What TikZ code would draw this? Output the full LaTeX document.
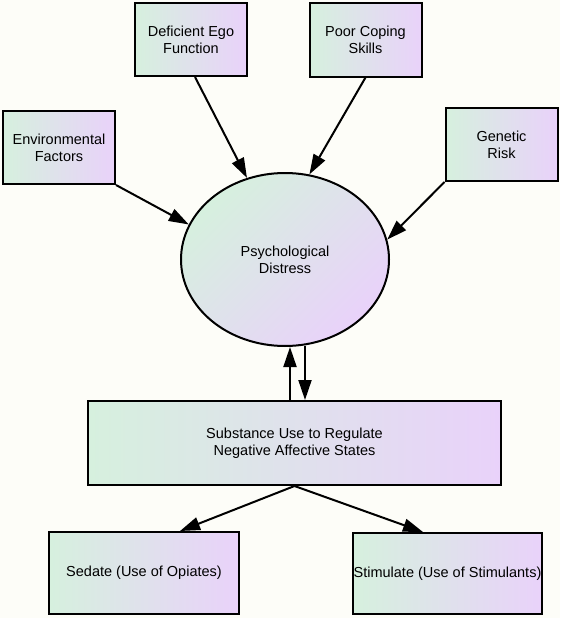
\documentclass[tikz,border=0pt]{standalone}
\usepackage{fontspec}
\setmainfont{Liberation Sans}
\usetikzlibrary{arrows.meta, positioning, shapes.geometric}
\definecolor{mint}{RGB}{214,240,222}
\definecolor{lilac}{RGB}{233,210,250}
\definecolor{paper}{RGB}{253,253,248}

\begin{document}
\begin{tikzpicture}[->,>={Triangle[length=20pt,width=13pt]},line width=2pt,on grid,
  box font/.style={font=\fontsize{14.5}{17}\selectfont},
  factor node/.style={rectangle,draw,left color=mint,right color=lilac,box font,align=center,inner sep=0pt,minimum width=112pt,minimum height=73pt},
  distress node/.style={ellipse,draw,top color=mint,bottom color=lilac,shading angle=45,box font,align=center,inner sep=0pt,minimum width=208pt,minimum height=173pt},
  use node/.style={rectangle,draw,left color=mint,right color=lilac,box font,align=center,inner sep=0pt}]

  \fill[paper,-] (0,0) rectangle (560pt,-618pt);
  \useasboundingbox (0,0) rectangle (560pt,-618pt);

  \node[distress node] (psy) at (285pt,-259.5pt) {Psychological\\Distress};
  \node[factor node] (env) [above left=112pt and 226pt of psy] {Environmental\\Factors};
  \node[factor node] (def) [above left=220pt and 94pt of psy] {Deficient Ego\\Function};
  \node[factor node] (poor) [above right=219.5pt and 80.5pt of psy] {Poor Coping\\Skills};
  \node[factor node] (gen) [above right=115pt and 216.5pt of psy] {Genetic\\Risk};
  \node[use node, minimum width=413pt, minimum height=84pt] (sub) [below right=183.5pt and 9.5pt of psy] {Substance Use to Regulate\\Negative Affective States};
  \node[use node, minimum width=190pt, minimum height=82pt] (sed) [below left=130pt and 150.5pt of sub] {Sedate (Use of Opiates)};
  \node[use node, minimum width=189pt, minimum height=81pt] (stim) [below right=130.5pt and 153pt of sub] {Stimulate (Use of Stimulants)};

  \path[->]
       (env.south east) edge (psy.160)
       ([xshift=4pt]def.south) edge (psy.115)
       (poor.south) edge (psy.74)
       (gen.south west) edge (psy.11)
       (sub.south) edge ([xshift=36pt]sed.north)
       (sub.south) edge ([xshift=-24.5pt]stim.north);

  \draw[->] ([xshift=-4.5pt]sub.north) -- ([xshift=-4.5pt]sub.north |- psy.south);
  \draw[->] ([xshift=10.5pt,yshift=1.5pt]sub.north |- psy.south) -- ([xshift=10.5pt]sub.north);
\end{tikzpicture}
\end{document}
